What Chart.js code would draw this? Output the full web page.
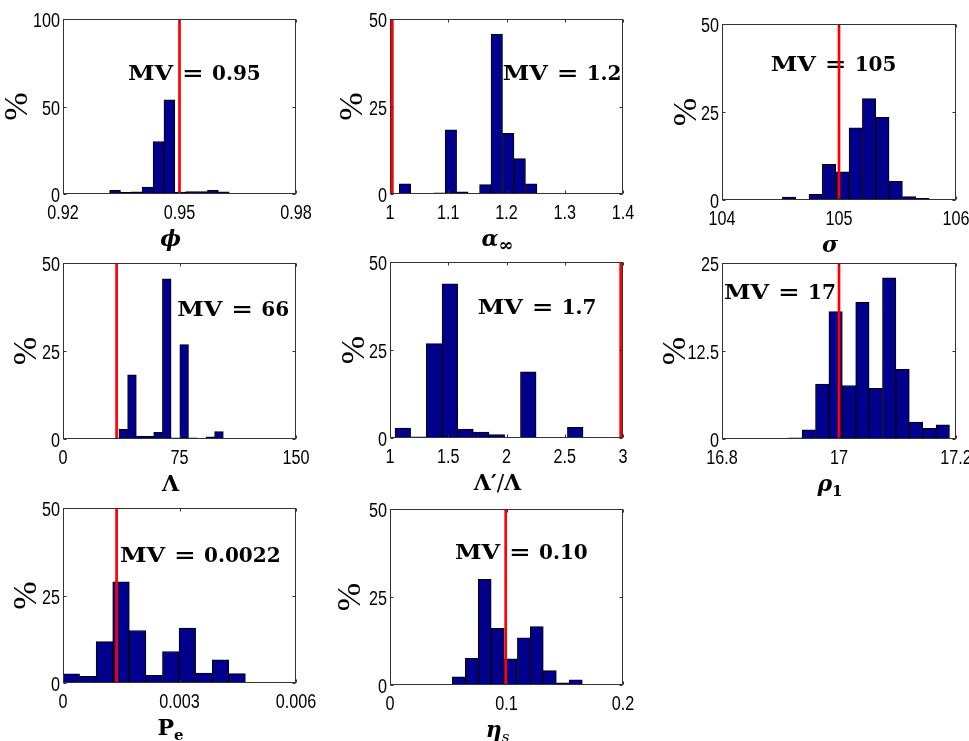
<!DOCTYPE html>
<html><head><meta charset="utf-8">
<script src="https://cdn.jsdelivr.net/npm/chart.js@4"></script>
<style>
html,body{margin:0;padding:0;background:#fff;overflow:hidden;width:969px;height:741px;position:relative;}
canvas{position:absolute;}
</style></head><body>
<script>
// ---------------- data ----------------
const phiBins = [0.9334,0.9362,0.9390,0.9418,0.9446,0.9474,0.9502,0.9530,0.9558,0.9586,0.9614,0.9642];
const phiPct  = [2.1,1.0,1.3,4.0,30.0,53.8,1.1,1.4,1.4,2.1,1.3,0.3];
const phiMV = 0.95, phiMVText = '0.95';
const phiXTicks = [0.92,0.95,0.98], phiXLabels = ['0.92','0.95','0.98'];

const alphaBins = [1.0257,1.0454,1.0651,1.0848,1.1045,1.1242,1.1439,1.1636,1.1833,1.2030,1.2227,1.2424];
const alphaPct  = [2.9,0,0,0.3,18.3,0.6,0,2.7,45.6,17.3,10.1,2.9];
const alphaMV = 1.004, alphaMVText = '1.2';
const alphaXTicks = [1,1.1,1.2,1.3,1.4], alphaXLabels = ['1','1.1','1.2','1.3','1.4'];

const sigmaBins = [104.573,104.687,104.801,104.915,105.029,105.143,105.257,105.371,105.485,105.599,105.713,105.827];
const sigmaPct  = [0.85,0,1.6,10.1,8.0,20.5,28.8,23.5,5.3,0.95,0.5,0.1];
const sigmaMV = 105, sigmaMVText = '105';
const sigmaXTicks = [104,105,106], sigmaXLabels = ['104','105','106'];

const lambdaBins = [38.8,44.4,50.0,55.6,61.2,66.8,72.4,78.0,83.6,89.2,94.8,100.4];
const lambdaPct  = [2.75,18.2,0.85,0.75,1.9,45.5,0.3,26.8,0.3,0,0.65,2.1];
const lambdaMV = 34.5, lambdaMVText = '66';
const lambdaXTicks = [0,75,150], lambdaXLabels = ['0','75','150'];

const ratioBins = [1.110,1.245,1.379,1.514,1.648,1.783,1.917,2.052,2.187,2.321,2.456,2.590];
const ratioPct  = [2.85,0.3,26.8,43.8,2.5,1.7,0.95,0,18.8,0,0,3.0];
const ratioMV = 2.98, ratioMVText = '1.7';
const ratioXTicks = [1,1.5,2,2.5,3], ratioXLabels = ['1','1.5','2','2.5','3'];

const rhoBins = [16.9255,16.9484,16.9713,16.9942,17.0171,17.0400,17.0629,17.0858,17.1087,17.1316,17.1545,17.1774];
const rhoPct  = [0.15,1.3,7.8,18.1,7.6,19.4,7.2,22.9,9.9,2.4,1.5,2.0];
const rhoMV = 17.0, rhoMVText = '17';
const rhoXTicks = [16.8,17,17.2], rhoXLabels = ['16.8','17','17.2'];

const peBins = [0.000213,0.000640,0.001067,0.001494,0.001921,0.002348,0.002775,0.003202,0.003629,0.004056,0.004483,0.004910];
const pePct  = [2.6,1.9,11.8,28.9,15.0,2.2,9.0,15.7,2.8,6.6,2.7,0.2];
const peMV = 0.00138, peMVText = '0.0022';
const peXTicks = [0,0.003,0.006], peXLabels = ['0','0.003','0.006'];

const etaBins = [0.0590,0.0702,0.0813,0.0925,0.1037,0.1149,0.1260,0.1372,0.1484,0.1595,0.1707,0.1819];
const etaPct  = [2.3,7.6,30.0,16.1,7.4,13.4,16.6,4.1,0.65,1.5,0,0.1];
const etaMV = 0.0993, etaMVText = '0.10';
const etaXTicks = [0,0.1,0.2], etaXLabels = ['0','0.1','0.2'];

const yTicks100 = [0,50,100], yLabels100 = ['0','50','100'];
const yTicks50 = [0,25,50], yLabels50 = ['0','25','50'];
const yTicks25 = [0,12.5,25], yLabels25 = ['0','12.5','25'];

// ---------------- layout / styles ----------------
const TICK_FONT = "20.5px 'Liberation Sans',Arial,sans-serif";
const TICK_SX = 0.79;
const SERIF = "'DejaVu Serif',serif";
const BAR_FILL = '#00008c';
const FRAME = '#333333';

const panels = [
  {L:63, T:19, R:296, B:194, bins:phiBins, pct:phiPct, mv:phiMV, mvText:phiMVText, xT:phiXTicks, xL:phiXLabels, yT:yTicks100, yL:yLabels100,
   text:[65,61], pctDx:-45, title:[{t:'\u03D5', f:'italic bold'}]},
  {L:390, T:19, R:623, B:194, bins:alphaBins, pct:alphaPct, mv:alphaMV, mvText:alphaMVText, xT:alphaXTicks, xL:alphaXLabels, yT:yTicks50, yL:yLabels50,
   text:[112.7,61], pctDx:-37, title:[{t:'\u03B1', f:'italic bold'},{t:'\u221E', f:'bold', sub:true, size:18}]},
  {L:722, T:24, R:956, B:200, bins:sigmaBins, pct:sigmaPct, mv:sigmaMV, mvText:sigmaMVText, xT:sigmaXTicks, xL:sigmaXLabels, yT:yTicks50, yL:yLabels50,
   text:[48.7,46.7], pctDx:-35, title:[{t:'\u03C3', f:'italic bold'}]},
  {L:63, T:263, R:296, B:439, bins:lambdaBins, pct:lambdaPct, mv:lambdaMV, mvText:lambdaMVText, xT:lambdaXTicks, xL:lambdaXLabels, yT:yTicks50, yL:yLabels50,
   text:[114.3,53], pctDx:-36, title:[{t:'\u039B', f:'bold'}]},
  {L:390, T:262, R:623, B:438, bins:ratioBins, pct:ratioPct, mv:ratioMV, mvText:ratioMVText, xT:ratioXTicks, xL:ratioXLabels, yT:yTicks50, yL:yLabels50,
   text:[87.7,52], pctDx:-35, title:[{t:'\u039B\u2032', f:'bold'},{t:'/', f:''},{t:'\u039B', f:'bold'}]},
  {L:722, T:263, R:956, B:439, bins:rhoBins, pct:rhoPct, mv:rhoMV, mvText:rhoMVText, xT:rhoXTicks, xL:rhoXLabels, yT:yTicks25, yL:yLabels25,
   text:[2,36.3], pctDx:-46, title:[{t:'\u03C1', f:'italic bold'},{t:'1', f:'bold', sub:true}]},
  {L:63, T:508, R:296, B:683, bins:peBins, pct:pePct, mv:peMV, mvText:peMVText, xT:peXTicks, xL:peXLabels, yT:yTicks50, yL:yLabels50,
   text:[57,53.7], pctDx:-36, title:[{t:'P', f:'bold'},{t:'e', f:'bold', sub:true}]},
  {L:390, T:509, R:623, B:685, bins:etaBins, pct:etaPct, mv:etaMV, mvText:etaMVText, xT:etaXTicks, xL:etaXLabels, yT:yTicks50, yL:yLabels50,
   text:[65,50.3], pctDx:-39, title:[{t:'\u03B7', f:'italic bold'},{t:'s', f:'italic', sub:true}]}
];

const PAD_L = 80, PAD_T = 20, PAD_R = 40, PAD_B = 70;

function condensedText(ctx, txt, x, y, align) {
  const w = ctx.measureText(txt).width * TICK_SX;
  let x0 = x;
  if (align === 'center') x0 = x - w / 2;
  else if (align === 'right') x0 = x - w;
  ctx.save();
  ctx.translate(x0, y);
  ctx.scale(TICK_SX, 1);
  ctx.textAlign = 'left';
  ctx.fillText(txt, 0, 0);
  ctx.restore();
}

function scaledText(ctx, txt, x, y, sx) {
  ctx.save();
  ctx.translate(x, y);
  ctx.scale(sx, 1);
  ctx.fillText(txt, 0, 0);
  ctx.restore();
}

function decorPlugin(p) {
  return {
    id: 'decor',
    beforeDatasetsDraw(chart) {
      const ctx = chart.ctx, a = chart.chartArea;
      const x0 = a.left + p.text[0], y0 = a.top + p.text[1];
      ctx.save();
      ctx.fillStyle = '#000';
      ctx.textBaseline = 'alphabetic';
      ctx.textAlign = 'left';
      ctx.font = 'bold 20px ' + SERIF;
      scaledText(ctx, 'MV', x0, y0, 1.2);
      scaledText(ctx, '=', x0 + 54, y0, 1.3);
      ctx.fillText(p.mvText, x0 + 84, y0);
      ctx.restore();
    },
    afterDraw(chart) {
      const ctx = chart.ctx, a = chart.chartArea;
      const xs = chart.scales.x, ys = chart.scales.y;
      ctx.save();
      // frame
      ctx.strokeStyle = FRAME;
      ctx.lineWidth = 1;
      const l = Math.round(a.left) + 0.5, r = Math.round(a.right) - 0.5;
      const t = Math.round(a.top) + 0.5, b = Math.round(a.bottom) - 0.5;
      ctx.strokeRect(l, t, r - l, b - t);
      // inward ticks
      ctx.beginPath();
      const TL = 3;
      p.xT.forEach(v => {
        const px = Math.round(xs.getPixelForValue(v)) + 0.5;
        ctx.moveTo(px, b); ctx.lineTo(px, b - TL);
        ctx.moveTo(px, t); ctx.lineTo(px, t + TL);
      });
      p.yT.forEach(v => {
        const py = Math.round(ys.getPixelForValue(v)) + 0.5;
        ctx.moveTo(l, py); ctx.lineTo(l + TL, py);
        ctx.moveTo(r, py); ctx.lineTo(r - TL, py);
      });
      ctx.stroke();
      // tick labels (narrow sans), placed through the chart scales
      ctx.fillStyle = '#000';
      ctx.font = TICK_FONT;
      ctx.textBaseline = 'alphabetic';
      p.xT.forEach((v, i) => {
        condensedText(ctx, p.xL[i], xs.getPixelForValue(v), a.bottom + 25, 'center');
      });
      p.yT.forEach((v, i) => {
        condensedText(ctx, p.yL[i], a.left - 3, ys.getPixelForValue(v) + 8, 'right');
      });
      // y title
      ctx.font = "34px 'Liberation Serif',serif";
      ctx.textAlign = 'center';
      ctx.textBaseline = 'middle';
      ctx.save();
      ctx.translate(a.left + p.pctDx, (a.top + a.bottom) / 2);
      ctx.rotate(-Math.PI / 2);
      ctx.fillText('%', 0, 0);
      ctx.restore();
      // x title
      ctx.textAlign = 'left';
      ctx.textBaseline = 'alphabetic';
      const segs = p.title.map(s => {
        const size = s.size || (s.sub ? 15 : 22);
        const font = (s.f ? s.f + ' ' : '') + size + 'px ' + SERIF;
        ctx.font = font;
        return {t: s.t, font, w: ctx.measureText(s.t).width, sub: s.sub};
      });
      const total = segs.reduce((acc, s) => acc + s.w, 0);
      let x = (a.left + a.right) / 2 - 9 - total / 2;
      const base = a.bottom + 52;
      segs.forEach(s => {
        ctx.font = s.font;
        ctx.fillText(s.t, x, base + (s.sub ? 5 : 0));
        x += s.w;
      });
      ctx.restore();
    }
  };
}

function makePanel(p) {
  const W = p.R - p.L, H = p.B - p.T;
  const cw = W + PAD_L + PAD_R, ch = H + PAD_T + PAD_B;
  const c = document.createElement('canvas');
  c.width = cw; c.height = ch;
  c.style.left = (p.L - PAD_L) + 'px';
  c.style.top = (p.T - PAD_T) + 'px';
  c.style.width = cw + 'px'; c.style.height = ch + 'px';
  document.body.appendChild(c);
  const yMax = p.yT[p.yT.length - 1];
  new Chart(c, {
    type: 'bar',
    data: {
      datasets: [
        {type: 'line', data: [{x: p.mv, y: 0}, {x: p.mv, y: yMax}], borderColor: '#ff0000', borderWidth: 2.7,
         pointRadius: 0, order: 0, tension: 0},
        {type: 'bar', data: p.bins.map((b, i) => ({x: b, y: p.pct[i]})), backgroundColor: BAR_FILL,
         borderColor: '#000', borderWidth: 1, barPercentage: 1.0, categoryPercentage: 1.0, order: 1, borderSkipped: 'start'}
      ]
    },
    options: {
      responsive: false, animation: false,
      layout: {padding: {left: 0, top: PAD_T, right: PAD_R, bottom: 0}},
      plugins: {legend: {display: false}, tooltip: {enabled: false}},
      scales: {
        x: {
          type: 'linear', min: p.xT[0], max: p.xT[p.xT.length - 1], offset: false,
          grid: {display: false, drawTicks: false, offset: false}, border: {display: false},
          afterBuildTicks: s => { s.ticks = p.xT.map(v => ({value: v})); },
          afterFit: s => { s.height = PAD_B; },
          ticks: {display: false, autoSkip: false, maxRotation: 0, minRotation: 0, callback: (v, i) => p.xL[i]}
        },
        y: {
          type: 'linear', min: 0, max: yMax,
          grid: {display: false, drawTicks: false}, border: {display: false},
          afterBuildTicks: s => { s.ticks = p.yT.map(v => ({value: v})); },
          afterFit: s => { s.width = PAD_L; },
          ticks: {display: false, autoSkip: false, callback: (v, i) => p.yL[i]}
        }
      }
    },
    plugins: [decorPlugin(p)]
  });
}

panels.forEach(makePanel);
</script>
</body></html>
